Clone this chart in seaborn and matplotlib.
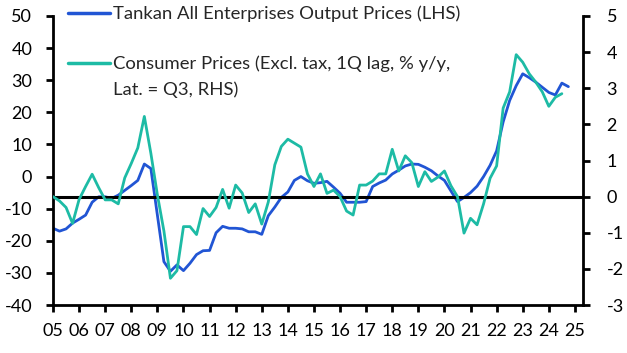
import matplotlib
matplotlib.use("Agg")
import matplotlib.pyplot as plt
from matplotlib.lines import Line2D
import seaborn as sns
import numpy as np
import pandas as pd

# ---- data (quarterly, 2005Q1 onwards) ----
tankan_output_prices = [
    -16.1, -17.0, -16.3, -14.5,
    -13.3, -12.0, -8.0, -6.3,
    -6.3, -6.8, -5.8, -4.3,
    -2.8, -1.2, 3.9, 2.5,
    -12.0, -26.5, -29.5, -27.5,
    -29.3, -27.0, -24.3, -23.1,
    -23.0, -17.5, -15.5, -16.1,
    -16.1, -16.3, -17.2, -17.2,
    -18.0, -12.2, -9.5, -6.5,
    -4.8, -1.2, 0.0, -1.3,
    -2.1, -1.9, -1.5, -3.3,
    -5.2, -8.0, -8.0, -8.0,
    -7.8, -3.1, -2.0, -1.1,
    0.8, 2.0, 3.3, 3.9,
    3.8, 2.9, 1.8, 0.2,
    -1.2, -4.5, -7.8, -6.5,
    -5.0, -3.0, 0.0, 3.5,
    8.0, 17.0, 23.7, 28.3,
    32.0, 30.8, 29.4, 27.8,
    26.2, 25.4, 29.1, 28.0,
]
consumer_prices = [
    0.0, -0.12, -0.3, -0.74,
    -0.08, 0.28, 0.62, 0.25,
    -0.09, -0.09, -0.2, 0.52,
    0.92, 1.35, 2.22, 1.2,
    0.05, -0.95, -2.26, -2.05,
    -0.83, -0.83, -1.05, -0.33,
    -0.55, -0.3, 0.2, -0.32,
    0.32, 0.1, -0.44, -0.2,
    -0.76, -0.15, 0.88, 1.39,
    1.59, 1.48, 1.37, 0.63,
    0.28, 0.63, 0.09, 0.18,
    0.0, -0.4, -0.51, 0.32,
    0.32, 0.43, 0.63, 0.63,
    1.31, 0.71, 1.13, 0.94,
    0.28, 0.69, 0.42, 0.54,
    0.71, 0.3, 0.0, -1.01,
    -0.6, -0.78, -0.2, 0.51,
    0.85, 2.45, 2.9, 3.93,
    3.72, 3.4, 3.17, 2.9,
    2.5, 2.75, 2.85,
]
start_year = 2005
year_ticks = list(range(2005, 2026))
year_labels = [f"{y % 100:02d}" for y in year_ticks]
left_ticks = [-40, -30, -20, -10, 0, 10, 20, 30, 40, 50]
right_ticks = [-3, -2, -1, 0, 1, 2, 3, 4, 5]
label_tankan = "Tankan All Enterprises Output Prices (LHS)"
label_cpi_lines = ["Consumer Prices (Excl. tax, 1Q lag, % y/y,", "Lat. = Q3, RHS)"]

df_t = pd.DataFrame({"date": start_year + np.arange(len(tankan_output_prices)) * 0.25,
                     "value": tankan_output_prices})
df_c = pd.DataFrame({"date": start_year + np.arange(len(consumer_prices)) * 0.25,
                     "value": consumer_prices})

# ---- style ----
sns.set_style("ticks")
plt.rcParams["font.family"] = ["Lato", "DejaVu Sans"]
plt.rcParams["axes.unicode_minus"] = False

BLUE = "#2155D4"
TEAL = "#1DBBA5"
FS = 13
LFS = 13.3

W, H = 627, 353
fig = plt.figure(figsize=(W / 100, H / 100), dpi=100)
ax = fig.add_axes([53 / W, 1 - 305 / H, 530 / W, 289 / H])
ax2 = ax.twinx()

sns.lineplot(data=df_t, x="date", y="value", ax=ax, color=BLUE, lw=2.0, legend=False)
sns.lineplot(data=df_c, x="date", y="value", ax=ax2, color=TEAL, lw=2.0, legend=False)
ax2.axhline(0, color="black", lw=2.2, zorder=1)

ax.set_xlim(2005, 2025.31)
ax.set_ylim(-40, 50)
ax2.set_ylim(-3, 5)
ax.set_xticks(year_ticks)
ax.set_xticklabels(year_labels)
ax.set_yticks(left_ticks)
ax.set_yticklabels([str(v) for v in left_ticks])
ax2.set_yticks(right_ticks)
ax2.set_yticklabels([str(v) for v in right_ticks])
ax.set_xlabel("")
ax.set_ylabel("")
ax2.set_ylabel("")

for a in (ax, ax2):
    a.spines["top"].set_visible(False)
    for s in ("left", "right", "bottom"):
        a.spines[s].set_linewidth(2.0)
        a.spines[s].set_color("black")
ax.spines["right"].set_visible(False)
ax2.spines["left"].set_visible(False)
ax2.spines["bottom"].set_visible(False)

ax.tick_params(axis="x", length=5, width=2, pad=8, labelsize=FS, colors="black")
ax.tick_params(axis="y", length=5, width=2, pad=10, labelsize=FS, colors="black")
ax2.tick_params(axis="y", length=5, width=2, pad=12, labelsize=FS, colors="black")

# ---- legend (key lines + labels) ----
def fx(px):
    return px / W

def fy(py):
    return 1 - py / H

fig.add_artist(Line2D([fx(68), fx(110)], [fy(13), fy(13)], color=BLUE, lw=2.5))
fig.text(fx(113), fy(19.5), label_tankan, fontsize=LFS, va="baseline", ha="left")
fig.add_artist(Line2D([fx(68), fx(110)], [fy(63), fy(63)], color=TEAL, lw=2.5))
fig.text(fx(113), fy(69.5), label_cpi_lines[0], fontsize=LFS, va="baseline", ha="left")
fig.text(fx(113), fy(95), label_cpi_lines[1], fontsize=LFS, va="baseline", ha="left")

fig.savefig("out.png", dpi=100)
